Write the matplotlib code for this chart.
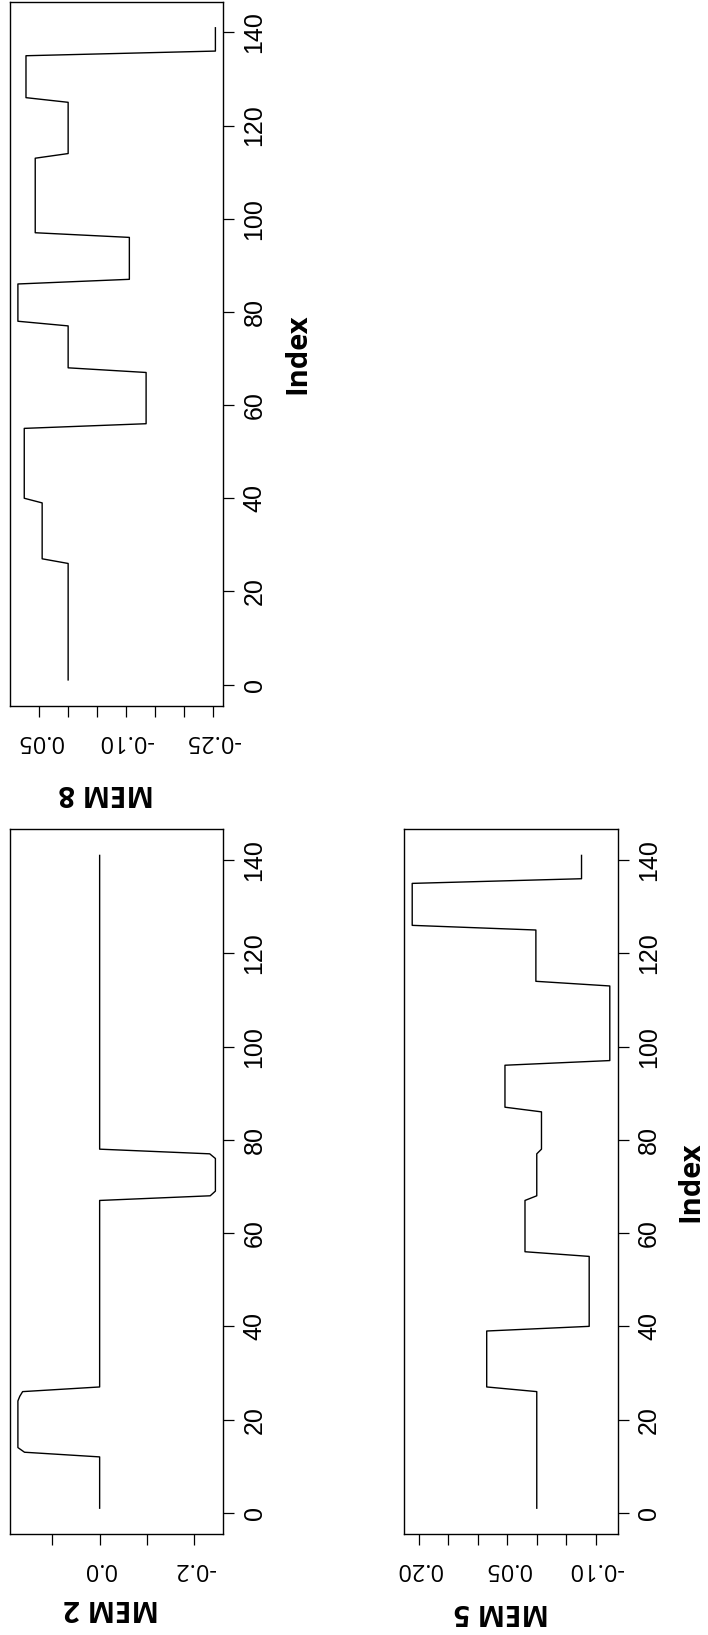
import numpy as np
import matplotlib
matplotlib.use("Agg")
import matplotlib.pyplot as plt

# site index 1..141, each MEM is piecewise constant: (run length, level)
index = np.arange(1, 142)

mem2_runs = [12, 1, 11, 1, 1, 41, 1, 8, 1, 64]
mem2_levels = [0.0, 0.159, 0.173, 0.169, 0.163, 0.0, -0.234, -0.245, -0.233, 0.0]

mem5_runs = [26, 13, 16, 12, 10, 9, 10, 17, 12, 10, 6]
mem5_levels = [0.0, 0.085, -0.089, 0.020, 0.0, -0.008, 0.054, -0.124, 0.0015, 0.2115, -0.076]

mem8_runs = [26, 13, 16, 12, 10, 9, 10, 17, 12, 10, 6]
mem8_levels = [0.0, 0.045, 0.076, -0.135, 0.0, 0.087, -0.106, 0.057, 0.0, 0.073, -0.255]

mem2_ticks = [-0.2, -0.1, 0.0, 0.1]
mem2_ticklabels = ["-0.2", "", "0.0", ""]
mem5_ticks = [-0.10, -0.05, 0.0, 0.05, 0.10, 0.15, 0.20]
mem5_ticklabels = ["-0.10", "", "", "0.05", "", "", "0.20"]
mem8_ticks = [-0.25, -0.20, -0.15, -0.10, -0.05, 0.0, 0.05]
mem8_ticklabels = ["-0.25", "", "", "-0.10", "", "", "0.05"]
index_ticks = [0, 20, 40, 60, 80, 100, 120, 140]

mem2 = np.repeat(mem2_levels, mem2_runs)
mem5 = np.repeat(mem5_levels, mem5_runs)
mem8 = np.repeat(mem8_levels, mem8_runs)

W, H = 708, 1635
fig = plt.figure(figsize=(W / 100, H / 100), dpi=100)


def panel(box, values, ticks, ticklabels):
    l, t, r, b = box
    ax = fig.add_axes([l / W, 1 - b / H, (r - l) / W, (b - t) / H])
    ax.plot(values, index, color="black", lw=1.0)
    lo, hi = values.min(), values.max()
    pad = 0.04 * (hi - lo)
    ax.set_xlim(hi + pad, lo - pad)
    ipad = 0.04 * (index.max() - index.min())
    ax.set_ylim(index.min() - ipad, index.max() + ipad)
    ax.set_xticks(ticks)
    ax.set_xticklabels(ticklabels, rotation=180, family="Open Sans", fontsize=17)
    ax.yaxis.tick_right()
    ax.set_yticks(index_ticks)
    ax.set_yticklabels([str(v) for v in index_ticks], rotation=90, va="center",
                       family="Liberation Sans", fontsize=18)
    ax.tick_params(axis="x", length=7.9, width=0.9, pad=8.5)
    ax.tick_params(axis="y", length=7.9, width=0.9, pad=6)
    for s in ax.spines.values():
        s.set_linewidth(1.0)
    return ax


panel((10, 1.7, 223.3, 706), mem8, mem8_ticks, mem8_ticklabels)
panel((10, 829.3, 223.3, 1534.3), mem2, mem2_ticks, mem2_ticklabels)
panel((404.3, 829.3, 617.7, 1534.3), mem5, mem5_ticks, mem5_ticklabels)


def label(x, y, s, rot):
    fig.text(x / W, 1 - y / H, s, rotation=rot, ha="center", va="center",
             family="Open Sans", weight="bold", fontsize=21)


label(106, 792, "MEM 8", 180)
label(111, 1607, "MEM 2", 180)
label(501, 1611, "MEM 5", 180)
label(297.5, 354, "Index", 90)
label(691, 1182, "Index", 90)

fig.savefig("out.png", dpi=100)
